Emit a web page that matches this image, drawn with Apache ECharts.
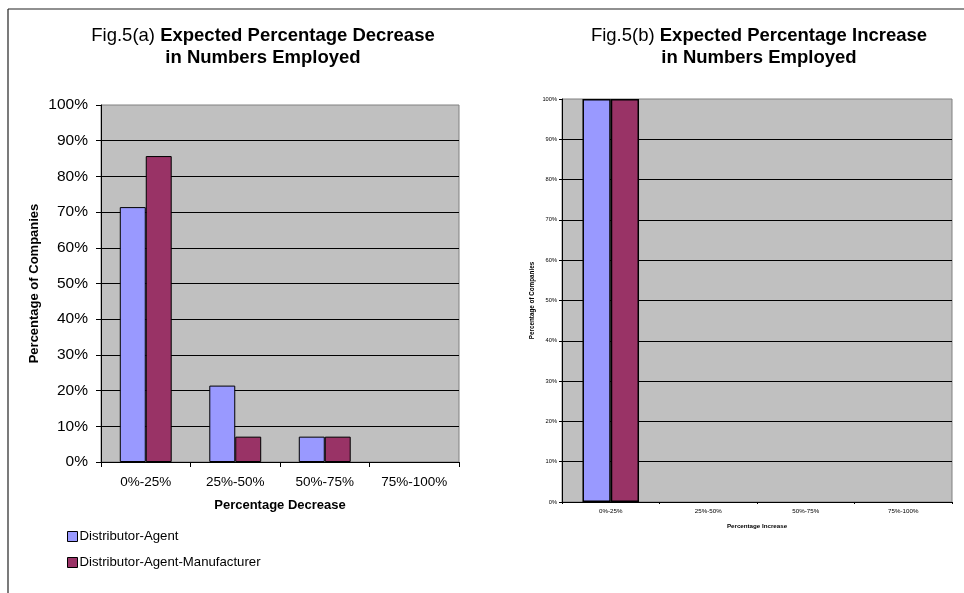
<!DOCTYPE html>
<html><head><meta charset="utf-8">
<script src="https://cdn.jsdelivr.net/npm/echarts@6/dist/echarts.min.js"></script>
<style>html,body{margin:0;padding:0;background:#fff}#c{width:964px;height:593px}</style>
</head><body><div id="c"></div>
<script>
const categories = ['0%-25%', '25%-50%', '50%-75%', '75%-100%'];
const seriesNames = ['Distributor-Agent', 'Distributor-Agent-Manufacturer'];
const decreaseAgent = [71.4, 21.4, 7.1, 0];
const decreaseManufacturer = [85.7, 7.1, 7.1, 0];
const increaseAgent = [100, 0, 0, 0];
const increaseManufacturer = [100, 0, 0, 0];
const yTicks = [0, 10, 20, 30, 40, 50, 60, 70, 80, 90, 100];

const FONT = 'Liberation Sans, Arial, sans-serif';
const colors = ['#9999FF', '#993366'];

function yAxis(grid, fs, name, nameFs, gap, tickLen, margin) {
  return {
    gridIndex: grid, type: 'value', min: yTicks[0], max: yTicks[yTicks.length - 1], interval: 10,
    name: name, nameLocation: 'middle', nameGap: gap, nameRotate: 90,
    nameTextStyle: {fontFamily: FONT, fontWeight: 'bold', fontSize: nameFs, color: '#000'},
    axisLine: {show: true, lineStyle: {color: '#000', width: 1}},
    axisTick: {show: true, length: tickLen, lineStyle: {color: '#000'}},
    axisLabel: {formatter: '{value}%', fontFamily: FONT, fontSize: fs, color: '#000', margin: margin},
    splitLine: {show: true, showMaxLine: false, lineStyle: {color: '#000', width: 1}}
  };
}
function xAxis(grid, fs, name, nameFs, gap, tickLen, margin) {
  return {
    gridIndex: grid, type: 'category', data: categories,
    name: name, nameLocation: 'middle', nameGap: gap,
    nameTextStyle: {fontFamily: FONT, fontWeight: 'bold', fontSize: nameFs, color: '#000'},
    axisLine: {show: true, lineStyle: {color: '#000', width: 1}},
    axisTick: {show: true, length: tickLen, alignWithLabel: false, lineStyle: {color: '#000'}},
    axisLabel: {fontFamily: FONT, fontSize: fs, color: '#000', margin: margin, interval: 0},
    splitLine: {show: false}
  };
}
function bar(name, data, xi, yi, ci, bw) {
  return {
    name: name, type: 'bar', xAxisIndex: xi, yAxisIndex: yi,
    // zero-height bars are not drawn (as in the original)
    data: data.map(v => (v === 0 ? '-' : v)),
    barGap: '0%', barCategoryGap: '42%',
    itemStyle: {color: colors[ci], borderColor: '#000', borderWidth: bw},
    emphasis: {disabled: true}, animation: false
  };
}
function title(prefix, main, line2, cx) {
  return {
    text: '{n|' + prefix + ' }{b|' + main + '}\n{b|' + line2 + '}',
    left: cx, top: 25, textAlign: 'center', padding: 0,
    textStyle: {
      align: 'center', lineHeight: 22, fontWeight: 'normal',
      rich: {
        n: {fontFamily: FONT, fontSize: 18.5, fontWeight: 'normal', color: '#000', lineHeight: 22},
        b: {fontFamily: FONT, fontSize: 18.5, fontWeight: 'bold', color: '#000', lineHeight: 22}
      }
    }
  };
}

const chart = echarts.init(document.getElementById('c'), null, {renderer: 'canvas'});
chart.setOption({
  animation: false,
  backgroundColor: '#fff',
  title: [
    title('Fig.5(a)', 'Expected Percentage Decrease', 'in Numbers Employed', 263),
    title('Fig.5(b)', 'Expected Percentage Increase', 'in Numbers Employed', 759)
  ],
  legend: {
    show: true, orient: 'vertical', left: 62, top: 525,
    itemWidth: 10, itemHeight: 10, itemGap: 13,
    icon: 'rect',
    data: seriesNames,
    textStyle: {fontFamily: FONT, fontSize: 13.2, color: '#000', padding: [0, 0, 0, -3]},
    itemStyle: {borderColor: '#000', borderWidth: 1}
  },
  grid: [
    {left: 101, top: 105, width: 358, height: 357, show: true, backgroundColor: '#C0C0C0', borderColor: '#808080', borderWidth: 1},
    {left: 562, top: 99, width: 390, height: 403, show: true, backgroundColor: '#C0C0C0', borderColor: '#808080', borderWidth: 1}
  ],
  xAxis: [
    xAxis(0, 13.5, 'Percentage Decrease', 13, 37, 5, 13),
    xAxis(1, 6.2, 'Percentage Increase', 6.2, 21, 2, 6)
  ],
  yAxis: [
    yAxis(0, 15.5, 'Percentage of Companies', 13, 60, 5, 13),
    yAxis(1, 5.7, 'Percentage of Companies', 6.3, 27, 3, 5)
  ],
  series: [
    bar(seriesNames[0], decreaseAgent, 0, 0, 0, 1),
    bar(seriesNames[1], decreaseManufacturer, 0, 0, 1, 1),
    bar(seriesNames[0], increaseAgent, 1, 1, 0, 1.5),
    bar(seriesNames[1], increaseManufacturer, 1, 1, 1, 1.5)
  ],
  graphic: [
    {type: 'line', shape: {x1: 8, y1: 9, x2: 964, y2: 9}, style: {stroke: '#222', lineWidth: 1.2}, silent: true},
    {type: 'line', shape: {x1: 8, y1: 9, x2: 8, y2: 593}, style: {stroke: '#222', lineWidth: 1.2}, silent: true}
  ]
});
</script></body></html>
